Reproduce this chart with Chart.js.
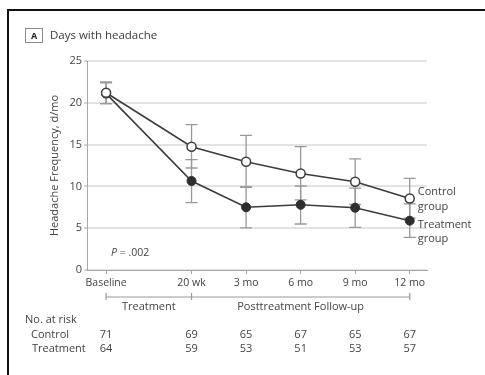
<!DOCTYPE html>
<html>
<head>
<meta charset="utf-8">
<script src="https://cdn.jsdelivr.net/npm/chart.js@4/dist/chart.umd.min.js"></script>
<style>
  html, body { margin: 0; padding: 0; background: #fff; }
  #chart { display: block; }
</style>
</head>
<body>
<canvas id="chart" width="485" height="375"></canvas>
<script>
// Days with headache - control vs treatment, with no. at risk table

const timeLabels = ['Baseline', '20 wk', '3 mo', '6 mo', '9 mo', '12 mo'];
const timeMonths = [0, 4.7, 7.7, 10.7, 13.7, 16.7];

const controlMean = [21.2, 14.75, 12.95, 11.55, 10.55, 8.55];
const controlLow = [19.9, 12.2, 9.9, 8.4, 7.85, 6.2];
const controlHigh = [22.5, 17.4, 16.1, 14.75, 13.3, 10.95];

const treatmentMean = [21.1, 10.65, 7.5, 7.8, 7.45, 5.9];
const treatmentLow = [19.9, 8.05, 5.05, 5.5, 5.1, 3.9];
const treatmentHigh = [22.4, 13.2, 9.95, 10.05, 9.8, 7.9];

const yTicks = [0, 5, 10, 15, 20, 25];

const controlAtRisk = [71, 69, 65, 67, 65, 67];
const treatmentAtRisk = [64, 59, 53, 51, 53, 57];

const FONT = "'Open Sans', 'DejaVu Sans', sans-serif";
const TEXT = '#444';

function _font(size, style) {
    return (style ? style + ' ' : '') + size + 'px ' + FONT;
}

const errorBarPlugin = {
    id: 'errorBars',
    beforeDatasetsDraw(chart) {
        const { ctx, scales: { x, y } } = chart;
        const groups = [[controlLow, controlHigh], [treatmentLow, treatmentHigh]];
        ctx.save();
        ctx.strokeStyle = '#999';
        ctx.lineWidth = 1.3;
        groups.forEach(([low, high]) => {
            timeMonths.forEach((m, i) => {
                const px = x.getPixelForValue(m);
                const yl = y.getPixelForValue(low[i]);
                const yh = y.getPixelForValue(high[i]);
                ctx.beginPath();
                ctx.moveTo(px, yl);
                ctx.lineTo(px, yh);
                ctx.moveTo(px - 6, yl);
                ctx.lineTo(px + 6, yl);
                ctx.moveTo(px - 6, yh);
                ctx.lineTo(px + 6, yh);
                ctx.stroke();
            });
        });
        ctx.restore();
    }
};

const decorPlugin = {
    id: 'decor',
    afterDraw(chart) {
        const { ctx, scales: { x, y } } = chart;
        ctx.save();

        // Panel frame (top and left rules)
        ctx.strokeStyle = '#111';
        ctx.lineWidth = 2;
        ctx.beginPath();
        ctx.moveTo(8, 375);
        ctx.lineTo(8, 10);
        ctx.lineTo(485, 10);
        ctx.stroke();

        // Panel letter + title
        ctx.strokeStyle = '#8a8a8a';
        ctx.lineWidth = 1;
        ctx.strokeRect(25.5, 28.5, 17, 14);
        ctx.fillStyle = '#222';
        ctx.font = _font(9, 'bold');
        ctx.textAlign = 'center';
        ctx.textBaseline = 'middle';
        ctx.fillText('A', 34, 36);
        ctx.fillStyle = '#3a3a3a';
        ctx.font = _font(11.5);
        ctx.textAlign = 'left';
        ctx.fillText('Days with headache', 50, 36);

        // P value
        ctx.fillStyle = TEXT;
        ctx.font = _font(10.5, 'italic');
        ctx.fillText('P', 111, 253);
        const pw = ctx.measureText('P').width;
        ctx.font = _font(10.5);
        ctx.fillText(' = .002', 111 + pw, 253);

        // Series labels at right end
        const lx = x.getPixelForValue(timeMonths[timeMonths.length - 1]) + 8;
        ctx.font = _font(11);
        ctx.fillText('Control', lx, 192);
        ctx.fillText('group', lx, 207);
        ctx.fillText('Treatment', lx, 225);
        ctx.fillText('group', lx, 239);

        // Phase bracket
        const xb = x.getPixelForValue(timeMonths[0]);
        const xt = x.getPixelForValue(timeMonths[1]);
        const xe = x.getPixelForValue(timeMonths[timeMonths.length - 1]);
        const yb = 297;
        ctx.strokeStyle = '#999';
        ctx.lineWidth = 1.2;
        ctx.beginPath();
        ctx.moveTo(xb, yb);
        ctx.lineTo(xe, yb);
        [xb, xt, xe].forEach(px => {
            ctx.moveTo(px, yb - 4);
            ctx.lineTo(px, yb + 3);
        });
        ctx.stroke();
        ctx.textAlign = 'center';
        ctx.fillText('Treatment', (xb + xt) / 2, 307);
        ctx.fillText('Posttreatment Follow-up', (xt + xe) / 2, 307);

        // No. at risk table
        ctx.textAlign = 'left';
        ctx.fillText('No. at risk', 25, 320);
        ctx.fillText('Control', 31, 335);
        ctx.fillText('Treatment', 32, 349);
        ctx.textAlign = 'center';
        timeMonths.forEach((m, i) => {
            const px = x.getPixelForValue(m);
            ctx.fillText(String(controlAtRisk[i]), px, 335);
            ctx.fillText(String(treatmentAtRisk[i]), px, 349);
        });

        ctx.restore();
    }
};

const canvas = document.getElementById('chart');
const chart = new Chart(canvas.getContext('2d'), {
    type: 'line',
    data: {
        datasets: [
            {
                label: 'Control group',
                data: timeMonths.map((m, i) => ({ x: m, y: controlMean[i] })),
                borderColor: '#3c3c3c',
                borderWidth: 1.6,
                pointRadius: 4.5,
                pointBackgroundColor: '#fff',
                pointBorderColor: '#3c3c3c',
                pointBorderWidth: 1.5,
                tension: 0
            },
            {
                label: 'Treatment group',
                data: timeMonths.map((m, i) => ({ x: m, y: treatmentMean[i] })),
                borderColor: '#3c3c3c',
                borderWidth: 1.6,
                pointRadius: 4.5,
                pointBackgroundColor: '#2e2e2e',
                pointBorderColor: '#2e2e2e',
                pointBorderWidth: 1,
                tension: 0
            }
        ]
    },
    options: {
        responsive: false,
        animation: false,
        layout: { padding: { left: 0, top: 61, right: 58, bottom: 0 } },
        plugins: {
            legend: { display: false },
            tooltip: { enabled: false }
        },
        scales: {
            x: {
                type: 'linear',
                min: -1.05,
                max: 17.65,
                afterFit(scale) { scale.height = 105; },
                afterBuildTicks(scale) {
                    scale.ticks = timeMonths.map(v => ({ value: v }));
                },
                ticks: {
                    autoSkip: false,
                    maxRotation: 0,
                    padding: 3,
                    color: TEXT,
                    font: { family: FONT, size: 10.5 },
                    callback: (v, i) => timeLabels[i]
                },
                grid: {
                    drawOnChartArea: false,
                    drawTicks: true,
                    tickLength: 4,
                    color: '#a8a8a8'
                },
                border: { color: '#a8a8a8', width: 1 }
            },
            y: {
                min: 0,
                max: 25,
                afterFit(scale) { scale.width = 87; },
                afterBuildTicks(scale) {
                    scale.ticks = yTicks.map(v => ({ value: v }));
                },
                ticks: {
                    padding: 2,
                    color: TEXT,
                    font: { family: FONT, size: 11 }
                },
                grid: {
                    color: '#e3e3e3',
                    lineWidth: 2,
                    tickLength: 3,
                    tickColor: '#a8a8a8',
                    tickWidth: 1
                },
                border: { color: '#a8a8a8', width: 1 },
                title: {
                    display: true,
                    text: 'Headache Frequency, d/mo',
                    color: TEXT,
                    font: { family: FONT, size: 11 },
                    padding: { top: 48, bottom: 0 }
                }
            }
        }
    },
    plugins: [errorBarPlugin, decorPlugin]
});
</script>
</body>
</html>
